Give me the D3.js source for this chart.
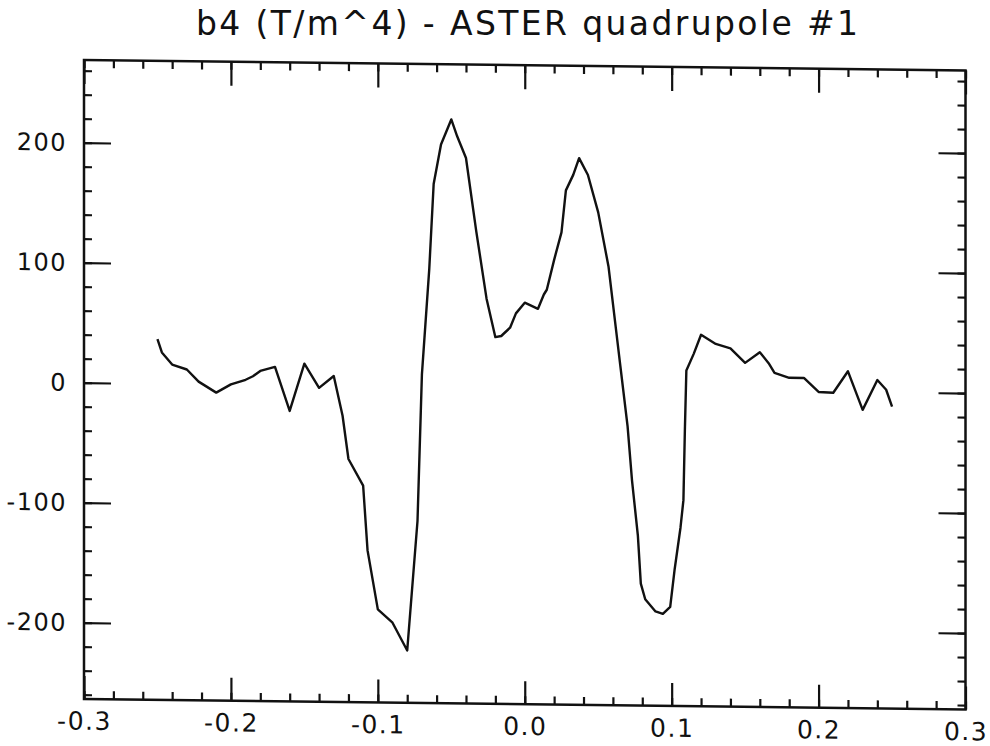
<!DOCTYPE html>
<html><head><meta charset="utf-8">
<script src="https://cdn.jsdelivr.net/npm/d3@7"></script>
<style>body{margin:0;background:#fff} svg{display:block}</style>
</head><body>
<script>
const chartTitle = "b4 (T/m^4) - ASTER quadrupole #1";
const xValues = [-0.25,-0.247,-0.24,-0.23,-0.222,-0.21,-0.20,-0.19,-0.185,-0.18,-0.17,-0.16,-0.15,-0.14,-0.13,-0.124,-0.12,-0.11,-0.107,-0.10,-0.09,-0.08,-0.073,-0.07,-0.065,-0.062,-0.057,-0.05,-0.046,-0.04,-0.033,-0.026,-0.02,-0.016,-0.01,-0.006,0.0,0.009,0.013,0.015,0.02,0.025,0.028,0.033,0.037,0.043,0.05,0.057,0.065,0.07,0.073,0.077,0.079,0.082,0.089,0.094,0.099,0.102,0.106,0.108,0.109,0.11,0.115,0.12,0.13,0.14,0.15,0.16,0.166,0.17,0.18,0.19,0.20,0.21,0.22,0.23,0.24,0.246,0.25];
const b4Values = [37,26,16,12,2,-7,0,4,7,11.5,15,-21.5,18,-2,8,-25,-61,-83,-137,-186,-197,-220,-112,10,98,169,202,223,209,191,130,74,42,43,50,62,71,66,78,82,107,130,165,178,192,178,147,102,20,-31,-76,-122,-162,-175,-185,-187,-181,-150,-115,-92,-33,16,30,46,38.5,35,23,32,23,15,11,11,-0.5,-1,17,-15,10,2,-12];
const xMajorTicks = [-0.3,-0.2,-0.1,0.0,0.1,0.2,0.3];
const xTickLabels = ["-0.3","-0.2","-0.1","0.0","0.1","0.2","0.3"];
const xMinorTicks = d3.range(-30,31,2).map(d=>d/100);
const yMajorTicks = [-200,-100,0,100,200];
const yTickLabels = ["-200","-100","0","100","200"];
const yMinorTicks = d3.range(-260,261,20);

const W=990,H=746;
const svg = d3.select("body").append("svg").attr("width",W).attr("height",H)
  .style("font-family","'DejaVu Sans', sans-serif");
const L=84,R=965.5,T=60,B=699;
const x = d3.scaleLinear().domain([-0.3,0.3]).range([L,R]);
const y = d3.scaleLinear().domain([-263.6,268.9]).range([B,T]);

svg.append("text").attr("x",527).attr("y",35).attr("text-anchor","middle")
  .attr("font-size",33).attr("fill","#111")
  .attr("textLength",662).attr("lengthAdjust","spacing")
  .text(chartTitle);

const g = svg.append("g").attr("transform",`translate(${L},0) skewY(0.676) translate(${-L},0)`);

function styleAxis(fs, ls){
  return sel => {
    sel.attr("font-family",null).attr("font-size",null);
    sel.select(".domain").remove();
    sel.selectAll(".tick line").attr("stroke","#111").attr("stroke-width",2.2);
    sel.selectAll(".tick text").attr("fill","#111")
      .style("font-size",fs+"px").style("letter-spacing",ls+"px")
      .style("font-family","'DejaVu Sans', sans-serif");
  };
}
// bottom
g.append("g").attr("transform",`translate(0,${B})`)
  .call(d3.axisBottom(x).tickValues(xMinorTicks).tickSize(-8).tickFormat("")).call(styleAxis(25,1.5));
g.append("g").attr("transform",`translate(0,${B})`)
  .call(d3.axisBottom(x).tickValues(xMajorTicks).tickSize(-23).tickPadding(13)
    .tickFormat((d,i)=>xTickLabels[i])).call(styleAxis(25,1.5));
// top
g.append("g").attr("transform",`translate(0,${T})`)
  .call(d3.axisTop(x).tickValues(xMinorTicks).tickSize(-8).tickFormat("")).call(styleAxis(25,1.5));
g.append("g").attr("transform",`translate(0,${T})`)
  .call(d3.axisTop(x).tickValues(xMajorTicks).tickSize(-24).tickFormat("")).call(styleAxis(25,1.5));
// left
g.append("g").attr("transform",`translate(${L},0)`)
  .call(d3.axisLeft(y).tickValues(yMinorTicks).tickSize(-8).tickFormat("")).call(styleAxis(24,1.5));
g.append("g").attr("transform",`translate(${L},0)`)
  .call(d3.axisLeft(y).tickValues(yMajorTicks).tickSize(-27).tickPadding(17)
    .tickFormat((d,i)=>yTickLabels[i])).call(styleAxis(24,1.5));
// right
g.append("g").attr("transform",`translate(${R},0)`)
  .call(d3.axisRight(y).tickValues(yMinorTicks).tickSize(-8).tickFormat("")).call(styleAxis(24,1.5));
g.append("g").attr("transform",`translate(${R},0)`)
  .call(d3.axisRight(y).tickValues(yMajorTicks).tickSize(-27).tickFormat("")).call(styleAxis(24,1.5));

g.append("rect").attr("x",L).attr("y",T).attr("width",R-L).attr("height",B-T)
  .attr("fill","none").attr("stroke","#111").attr("stroke-width",2.5);

const pts = xValues.map((v,i)=>[v,b4Values[i]]);
g.append("path").datum(pts)
  .attr("d", d3.line().x(d=>x(d[0])).y(d=>y(d[1])))
  .attr("fill","none").attr("stroke","#111").attr("stroke-width",2.4)
  .attr("stroke-linejoin","round");
</script>
</body></html>
